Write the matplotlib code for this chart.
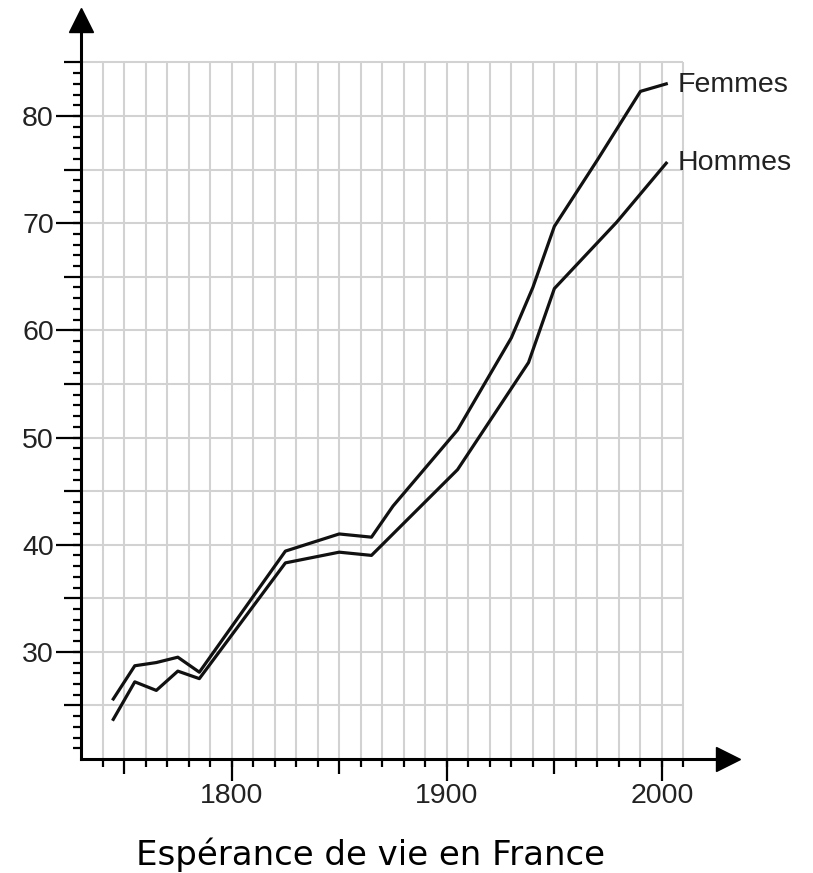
import numpy as np
import matplotlib.pyplot as plt
from matplotlib.ticker import FixedLocator, NullFormatter

# espérance de vie en France
femmes_annees = [1745, 1755, 1765, 1775, 1785, 1825, 1850, 1865, 1875, 1905, 1930, 1940, 1950, 1970, 1990, 2002]
femmes_vie = [25.6, 28.7, 29.0, 29.5, 28.1, 39.4, 41.0, 40.7, 43.6, 50.7, 59.3, 64.0, 69.7, 75.9, 82.3, 83.0]
hommes_annees = [1745, 1755, 1765, 1775, 1785, 1825, 1850, 1865, 1905, 1938, 1950, 1979, 2002]
hommes_vie = [23.7, 27.2, 26.4, 28.2, 27.5, 38.3, 39.3, 39.0, 47.0, 57.0, 63.9, 70.1, 75.6]
x_labels = [1800, 1900, 2000]
y_labels = [30, 40, 50, 60, 70, 80]

plt.rcParams['font.family'] = ['Liberation Sans', 'DejaVu Sans']

fig = plt.figure(figsize=(8.13, 8.73), dpi=100)
ax = fig.add_axes([81/813, 114/873, 647/813, 739/873])
ax.set_xlim(1730, 2030.7)
ax.set_ylim(20, 88.96)

# grille
grid_col = '#d2d2d2'
ax.vlines(np.arange(1740, 2011, 10), 20, 85, color=grid_col, lw=1.5, zorder=1)
ax.hlines(np.arange(25, 86, 5), 1730, 2010, color=grid_col, lw=1.5, zorder=1)

ax.plot(femmes_annees, femmes_vie, color='#111111', lw=2.3, zorder=3)
ax.plot(hommes_annees, hommes_vie, color='#111111', lw=2.3, zorder=3)
ax.annotate('Femmes', (femmes_annees[-1], femmes_vie[-1]), xytext=(8, 1), textcoords='offset points',
            va='center_baseline', ha='left', fontsize=20.5, color='#222222')
ax.annotate('Hommes', (hommes_annees[-1], hommes_vie[-1]), xytext=(8, 2), textcoords='offset points',
            va='center_baseline', ha='left', fontsize=20.5, color='#222222')

# axes avec flèches
for s in ['top', 'right']:
    ax.spines[s].set_visible(False)
for s in ['left', 'bottom']:
    ax.spines[s].set_linewidth(2.2)
ax.plot(1, 0, '>k', ms=17, transform=ax.transAxes, clip_on=False)
ax.plot(0, 1, '^k', ms=17, transform=ax.transAxes, clip_on=False)

# petites et moyennes graduations sur l'axe principal
ax.xaxis.set_major_locator(FixedLocator([1750, 1850, 1950]))
ax.xaxis.set_minor_locator(FixedLocator(np.arange(1740, 2011, 10)))
ax.yaxis.set_major_locator(FixedLocator([25, 35, 45, 55, 65, 75, 85]))
ax.yaxis.set_minor_locator(FixedLocator(np.arange(21, 86, 1)))
ax.xaxis.set_major_formatter(NullFormatter())
ax.yaxis.set_major_formatter(NullFormatter())
ax.tick_params(which='both', width=1.6)
ax.tick_params(which='minor', length=6)
ax.tick_params(axis='x', which='major', length=11)
ax.tick_params(axis='y', which='major', length=12)

# grandes graduations avec étiquettes
secx = ax.secondary_xaxis('bottom')
secx.set_xticks(x_labels)
secx.tick_params(length=16, width=1.6, pad=1.5, labelsize=20.5, labelcolor='#222222')
secx.spines['bottom'].set_visible(False)
secy = ax.secondary_yaxis('left')
secy.set_yticks(y_labels)
secy.tick_params(length=18, width=1.6, pad=1.5, labelsize=20.5, labelcolor='#222222')
secy.spines['left'].set_visible(False)

fig.text(370/813, 8/873, 'Espérance de vie en France', ha='center', va='baseline',
         fontsize=24.5, family='DejaVu Sans', color='black')

fig.savefig('out.png', dpi=100)
